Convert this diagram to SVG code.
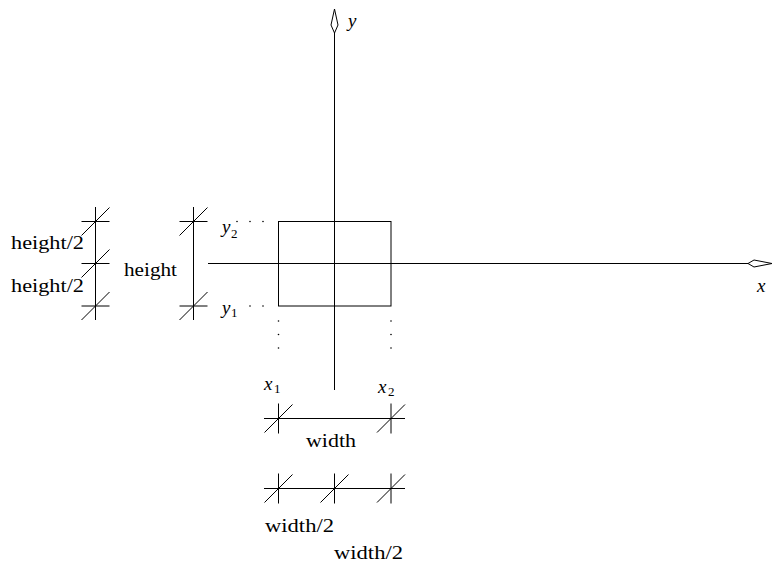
<svg xmlns="http://www.w3.org/2000/svg" width="773" height="565" viewBox="0 0 773 565">
<style>
.l{stroke:#000;stroke-width:1;fill:none}
.ar{stroke:#000;stroke-width:1;fill:#fff}
.d{fill:#000}
.t{font-family:"Liberation Serif","DejaVu Serif",serif;font-size:19px;fill:#000}
.m{font-family:"Liberation Serif","DejaVu Serif",serif;font-style:italic;font-size:19px;fill:#000}
.s{font-family:"Liberation Serif","DejaVu Serif",serif;font-size:13px;fill:#000}
</style>
<defs>
<g id="hv"><line class="l" x1="-14" y1="0" x2="14" y2="0"/><line class="l" x1="-14" y1="14" x2="14" y2="-14"/></g>
<g id="vt"><line class="l" x1="0" y1="-15" x2="0" y2="15"/><line class="l" x1="-14" y1="14" x2="14" y2="-14"/></g>
</defs>
<g id="connectors">
<line class="l" x1="334.5" y1="33" x2="334.5" y2="390"/>
<path class="ar" d="M334.5,9 L338,25 L334.5,33 L331,25 Z"/>
<line class="l" x1="208" y1="263.5" x2="748" y2="263.5"/>
<path class="ar" d="M772,263.5 L754,267 L748,263.5 L754,260 Z"/>
</g>
<g id="rect"><rect class="l" x="278.5" y="221.5" width="112.5" height="84.5"/></g>
<g id="guides">
<circle class="d" cx="237" cy="221.5" r="0.8"/><circle class="d" cx="250" cy="221.5" r="0.8"/><circle class="d" cx="263" cy="221.5" r="0.8"/>
<circle class="d" cx="250" cy="306" r="0.8"/><circle class="d" cx="263" cy="306" r="0.8"/>
<circle class="d" cx="278.5" cy="321" r="0.8"/><circle class="d" cx="278.5" cy="334.5" r="0.8"/><circle class="d" cx="278.5" cy="348" r="0.8"/>
<circle class="d" cx="391" cy="321" r="0.8"/><circle class="d" cx="391" cy="334.5" r="0.8"/><circle class="d" cx="391" cy="348" r="0.8"/>
</g>
<g id="dim-height">
<line class="l" x1="193.5" y1="207" x2="193.5" y2="320"/>
<use href="#hv" x="193.5" y="221.5"/>
<use href="#hv" x="193.5" y="306"/>
</g>
<g id="dim-half-height">
<line class="l" x1="95.5" y1="207" x2="95.5" y2="320"/>
<use href="#hv" x="95.5" y="221.5"/>
<use href="#hv" x="95.5" y="263.5"/>
<use href="#hv" x="95.5" y="306"/>
</g>
<g id="dim-width">
<line class="l" x1="264" y1="418.5" x2="405" y2="418.5"/>
<use href="#vt" x="278.5" y="418.5"/>
<use href="#vt" x="391" y="418.5"/>
</g>
<g id="dim-half-width">
<line class="l" x1="264" y1="488.5" x2="405" y2="488.5"/>
<use href="#vt" x="278.5" y="488.5"/>
<use href="#vt" x="334.5" y="488.5"/>
<use href="#vt" x="391" y="488.5"/>
</g>
<g id="labels">
<text class="m" x="348" y="27">y</text>
<text class="m" x="757" y="292">x</text>
<text class="m" x="222" y="233">y</text><text class="s" x="231" y="238">2</text>
<text class="m" x="222" y="314">y</text><text class="s" x="231" y="317">1</text>
<text class="m" x="264" y="390">x</text><text class="s" x="274" y="393">1</text>
<text class="m" x="378" y="393">x</text><text class="s" x="388" y="396">2</text>
<text class="t" x="124" y="276" textLength="53" lengthAdjust="spacingAndGlyphs">height</text>
<text class="t" x="11" y="249" textLength="73" lengthAdjust="spacingAndGlyphs">height/2</text>
<text class="t" x="11" y="292" textLength="73" lengthAdjust="spacingAndGlyphs">height/2</text>
<text class="t" x="306" y="447" textLength="50" lengthAdjust="spacingAndGlyphs">width</text>
<text class="t" x="265" y="532" textLength="69" lengthAdjust="spacingAndGlyphs">width/2</text>
<text class="t" x="334" y="559" textLength="69" lengthAdjust="spacingAndGlyphs">width/2</text>
</g>
</svg>
